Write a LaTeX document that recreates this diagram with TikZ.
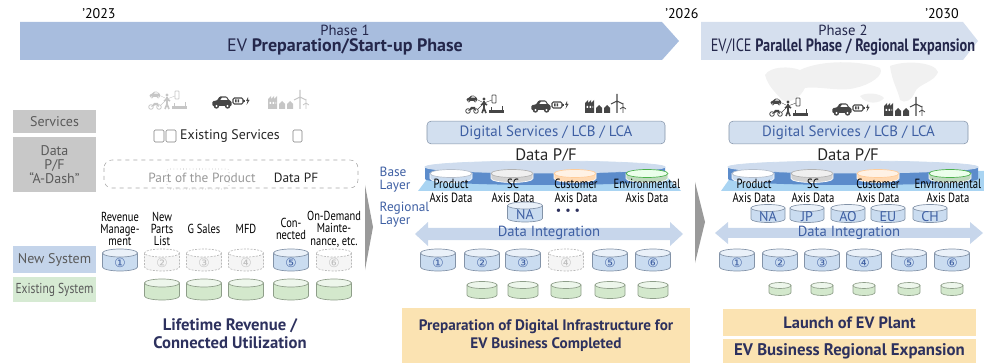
\documentclass[tikz,border=0pt]{standalone}
\usepackage{fontspec}
\setmainfont{PT Sans}
\newfontfamily\condfont{PT Sans}[FakeStretch=0.8]
\newfontfamily\symfont{DejaVu Sans}
\usetikzlibrary{shapes.geometric,positioning}

\definecolor{navy}{HTML}{2D315E}
\definecolor{txtblue}{HTML}{3E5FA3}
\definecolor{boxgrey}{HTML}{C8C8C8}
\definecolor{txtgrey}{HTML}{5A5A5A}
\definecolor{newblue}{HTML}{C4D4EA}
\definecolor{oldgreen}{HTML}{D6EAD3}
\definecolor{canblue}{HTML}{CADCF0}
\definecolor{canedge}{HTML}{8393A8}
\definecolor{cangreen}{HTML}{D3E8CC}
\definecolor{greenedge}{HTML}{8E9E89}
\definecolor{beige}{HTML}{FBE3B2}
\definecolor{bannerA}{HTML}{A8BDDE}
\definecolor{bannerB}{HTML}{D5DFEE}
\definecolor{svcblue}{HTML}{D2DFEF}
\definecolor{intblue}{HTML}{C7D6EB}
\definecolor{slab}{HTML}{A9D4F2}
\definecolor{disk}{HTML}{5C8CCB}
\definecolor{disktop}{HTML}{CFDCEE}
\definecolor{chev}{HTML}{9A9A9A}

\tikzset{
  sidebox/.style={fill=boxgrey, minimum width=62.25pt, inner sep=0pt, text=txtgrey,
    font=\fontsize{10.5}{10.5}\selectfont, align=center},
  collabel/.style={font=\condfont\fontsize{9.8}{9.3}\selectfont, align=center},
  axislabel/.style={font=\condfont\fontsize{10}{10.2}\selectfont, align=center},
  layerlabel/.style={font=\fontsize{10}{9.9}\selectfont, text=txtblue, align=left, anchor=west},
  svcbox/.style={draw=canedge, fill=svcblue, rounded corners=3pt, minimum height=14.25pt,
    minimum width=178.5pt, text=txtblue, font=\fontsize{11.2}{11}\selectfont},
  pftitle/.style={font=\fontsize{12.5}{12}\selectfont, text=black!85},
  goalbox/.style={fill=beige, inner sep=0pt, text=navy, font=\bfseries\fontsize{11.4}{13.5}\selectfont, align=center},
  inttext/.style={text=txtblue, font=\fontsize{11}{11}\selectfont},
  % database cans
  canw/.store in=\canw, canw=35,
  canh/.store in=\canh, canh=22,
  canry/.store in=\canry, canry=4,
  canbody/.style={fill=canblue, draw=canedge},
  cantop/.style={fill=canblue!40!white, draw=canedge},
  cantext/.style={text=txtblue, font=\symfont\fontsize{9.5}{9}\selectfont},
  plancan/.style={canbody/.style={fill=gray!8, draw=gray!55, dash pattern=on 1.5pt off 1pt},
    cantop/.style={fill=white, draw=gray!55, dash pattern=on 1.5pt off 1pt},
    cantext/.append style={text=gray!50}},
  oldcan/.style={canbody/.style={fill=cangreen, draw=greenedge},
    cantop/.style={fill=cangreen!40!white, draw=greenedge}},
  regcan/.style={canw=35, canh=19, canry=3.5, cantext/.append style={font=\rmfamily\fontsize{10.5}{9}\selectfont}},
  pics/dbcan/.style={code={
    \pgfmathsetmacro\rx{\canw/2}
    \pgfmathsetmacro\hy{\canh/2}
    \path[canbody, line width=0.5pt] (-\rx,-\hy+\canry) -- (-\rx,\hy-\canry)
      arc[start angle=180, end angle=0, x radius=\rx, y radius=\canry] -- (\rx,-\hy+\canry) -- cycle;
    \path[cantop, line width=0.5pt] (0,-\hy+\canry) ellipse[x radius=\rx, y radius=\canry];
    \node[cantext, inner sep=0pt] (-db) at (0,0.8*\canry) {#1};
  }},
  pics/minicar/.style={code={
    \fill[rounded corners=0.8] (-6,0) -- (-6,-3) -- (-3,-3.5) -- (-1.5,-6) -- (3,-6) -- (4.5,-3.5) -- (6,-3) -- (6,0) -- cycle;
    \fill[white] (-1,-3.8) -- (0,-5.2) -- (2.6,-5.2) -- (3.5,-3.8) -- cycle;
    \fill (-3.5,0) circle (1.7) (3.5,0) circle (1.7);
    \fill[white] (-3.5,0) circle (0.7) (3.5,0) circle (0.7);
  }},
  pics/mobility/.style={code={
    \pic[scale=0.9] at (-15,-4) {minicar};
    \draw[line width=0.6] (-19,6) circle (2.3) (-11,6) circle (2.3);
    \fill (-19,6) -- (-16,2) -- (-12,2) -- (-11,6) -- (-14,4) -- cycle;
    \fill (-3,-6) circle (1.6);
    \draw[line width=1.2] (-3,-4) -- (-3,3) (-3,3) -- (-5,8) (-3,3) -- (-1,8) (-6,0) -- (-3,-2) -- (0,0);
    \draw[line width=0.3] (-3,-2) -- (-9,-5) (-3,-2) -- (-9,4) (-3,-2) -- (5,-5);
    \draw[line width=0.6, rounded corners=0.5] (5,-10) rectangle (9,-2);
    \fill (2,5) rectangle (17,8);
    \draw[line width=0.5] (4,5) -- (4,2) (15,5) -- (15,1);
  }},
  pics/evcar/.style={code={
    \pic[scale=1.6] at (-9,5) {minicar};
    \draw[line width=0.8, rounded corners=1] (2,-3) rectangle (12,3);
    \fill (12,-1) rectangle (13.5,1);
    \fill (4,-1.5) rectangle (5.5,1.5) (6.5,-1.5) rectangle (8,1.5);
    \fill (17,-4) -- (15,0) -- (16.5,0) -- (15.5,4) -- (18.5,-1) -- (17,-1) -- cycle;
  }},
  pics/plant/.style={code={
    \fill (-22,8) -- (-22,-2) -- (-19,-5) -- (-19,-2) -- (-16,-5) -- (-16,-2) -- (-13,-5) -- (-13,8) -- cycle;
    \fill[white] (-20.5,1) rectangle (-19,3) (-17.5,1) rectangle (-16,3) (-14.5,1) rectangle (-14,3);
    \fill (-11,8) rectangle (-5,3) (-3,8) rectangle (3,3);
    \fill (-11,3) -- (-8,0) -- (-5,3) -- cycle (-3,3) -- (0,0) -- (3,3) -- cycle;
    \draw[line width=0.8] (10,8) -- (10,-4) (10,-4) -- (10,-11) (10,-4) -- (16,-1) (10,-4) -- (4,-1);
    \draw[line width=0.6] (16,8) -- (16,2) (16,2) -- (16,-2) (16,2) -- (19,4) (16,2) -- (13,4);
  }}
}

\begin{document}
\begin{tikzpicture}[x=0.75pt, y=-0.75pt]
\useasboundingbox (0,0) rectangle (984,363);

% phase banners
\fill[bannerA] (20,22) -- (662,22) -- (679,41) -- (662,60) -- (20,60) -- cycle;
\fill[bannerB] (701,22) -- (963,22) -- (978,41) -- (963,60) -- (701,60) -- cycle;
\node[text=navy!80!black, align=center] (phase1) at (345,40)
  {{\fontsize{11}{12}\selectfont Phase 1}\\{\fontsize{13.5}{13}\selectfont EV \textbf{Preparation/Start-up Phase}}};
\node[text=navy!80!black, align=center] (phase2) at (843,40)
  {{\fontsize{11}{12}\selectfont Phase 2}\\{\condfont\fontsize{13.4}{13}\selectfont EV/ICE \textbf{Parallel Phase / Regional Expansion}}};
\node[font=\fontsize{10.5}{10}\selectfont] (y2023) at (99,14) {’2023};
\node[font=\fontsize{10.5}{10}\selectfont] (y2026) at (682,14) {’2026};
\node[font=\fontsize{10.5}{10}\selectfont] (y2030) at (942,14) {’2030};

% section chevrons
\fill[chev] (365,185) -- (373,227) -- (365,270) -- cycle;
\fill[chev] (695,182) -- (705,222) -- (695,263) -- cycle;

% ---- left: current state
\node[sidebox, minimum height=17.25pt] (svc) at (54.5,121.5) {Services};
\node[sidebox, minimum height=41.25pt] (dpf) at (54.5,164.5) {Data\\P/F\\“A-Dash”};
\node[sidebox, fill=newblue, minimum height=20.25pt] (newsys) at (54.5,259.5) {New System};
\node[sidebox, fill=oldgreen, minimum height=18.75pt, font=\condfont\fontsize{10.8}{10}\selectfont] (oldsys) at (54.5,289.5) {Existing System};

\pic[gray!45] at (170,101) {mobility};
\pic[gray!55!black] at (231,101) {evcar};
\pic[gray!45] at (290,101) {plant};

\node[font=\fontsize{10.4}{10}\selectfont, text=black!85] (exsvc) at (230,136) {Existing Services};
\draw[gray, rounded corners=1pt] (154,130) rectangle (164,142) (166,130) rectangle (176,142) (293,130) rectangle (302,142);

\draw[gray!70, dashed, rounded corners=6pt] (104,160) rectangle (358,188);
\draw[gray!70, dotted, rounded corners=2pt] (167,169) rectangle (229,189);
\node[font=\fontsize{10}{10}\selectfont, text=gray!80] (partprod) at (202,178) {Part of the Product};
\node[font=\fontsize{10}{10}\selectfont, text=black!85] (datapf) at (296,178) {Data PF};

\node[collabel] (revlbl) at (120,229) {Revenue\\Manage-\\ment};
\node[collabel] (npllbl) at (162,229) {New\\Parts\\List};
\node[collabel] (gslbl) at (204,229) {G Sales};
\node[collabel] (mfdlbl) at (246,229) {MFD};
\node[collabel] (conlbl) at (291,229) {Con-\\nected};
\node[collabel] (odmlbl) at (334,229) {On-Demand\\Mainte-\\nance, etc.};

\pic (l1) at (120,260) {dbcan=①};
\pic[plancan] (l2) at (162,260) {dbcan=②};
\pic[plancan] (l3) at (204,260) {dbcan=③};
\pic[plancan] (l4) at (246,260) {dbcan=④};
\pic (l5) at (291,260) {dbcan=⑤};
\pic[plancan] (l6) at (334,260) {dbcan=⑥};
\foreach \x [count=\i] in {162,204,246,291,334}
  \pic[oldcan, canh=21] (lo\i) at (\x,289.5) {dbcan={}};

\node[text=navy, font=\bfseries\fontsize{12.5}{13.5}\selectfont, align=center] (lifetime) at (230,334)
  {Lifetime Revenue /\\Connected Utilization};

% ---- middle: phase 1 target
\pic[gray!55!black] at (487,105) {mobility};
\pic[gray!55!black] at (550,105) {evcar};
\pic[gray!55!black] at (607,105) {plant};
\node[svcbox] (svc1) at (546,132.5) {Digital Services / LCB / LCA};
\node[pftitle] (pf1) at (546,156) {Data P/F};

\fill[slab] (418,191) -- (433,171) -- (661,171) -- (681,191) -- cycle;
\fill[disk] (425,167) -- (425,179) arc[start angle=180, end angle=0, x radius=120, y radius=6] -- (665,167) -- cycle;
\filldraw[fill=disktop, draw=white!70!disk, line width=0.6pt] (545,167) ellipse[x radius=120, y radius=6];
\pic[canw=42, canh=13, canry=4, canbody/.style={fill=canblue, draw=white}, cantop/.style={fill=white, draw=canedge!60}] (ax1p) at (451,176) {dbcan={}};
\pic[canw=42, canh=13, canry=4, canbody/.style={fill=gray!35, draw=white}, cantop/.style={fill=gray!12, draw=gray!60}] (ax1s) at (512,176) {dbcan={}};
\pic[canw=42, canh=13, canry=4, canbody/.style={fill=orange!30, draw=white}, cantop/.style={fill=orange!10, draw=orange!40}] (ax1c) at (575,176) {dbcan={}};
\pic[canw=42, canh=13, canry=4, canbody/.style={fill=green!25!gray!40, draw=white}, cantop/.style={fill=green!8, draw=green!40!gray}] (ax1e) at (647,176) {dbcan={}};
\node[axislabel] (lb1p) at (451,191) {Product\\Axis Data};
\node[axislabel] (lb1s) at (513,191) {SC\\Axis Data};
\node[axislabel] (lb1c) at (576,191) {Customer\\Axis Data};
\node[axislabel] (lb1e) at (647,191) {Environmental\\Axis Data};

\node[layerlabel] (base) at (375,180) {Base\\Layer};
\node[layerlabel] (regional) at (375,215) {Regional\\Layer};
\pic[regcan, canh=20] (na1) at (525,212) {dbcan=NA};
\node[text=navy, font=\fontsize{9}{10}\selectfont] (more1) at (568,212) {•\,\,•\,\,•};

\fill[intblue] (415,234) -- (428,222) -- (428,228) -- (670,228) -- (670,222) -- (683,234)
  -- (670,246) -- (670,240) -- (428,240) -- (428,246) -- cycle;
\node[inttext] (int1) at (549,233) {Data Integration};

\pic (m1) at (438,260) {dbcan=①};
\pic (m2) at (482,260) {dbcan=②};
\pic (m3) at (523,260) {dbcan=③};
\pic[plancan] (m4) at (566,260) {dbcan=④};
\pic (m5) at (610,260) {dbcan=⑤};
\pic (m6) at (653,260) {dbcan=⑥};
\foreach \x [count=\i] in {482,523,566,610,653}
  \pic[oldcan, canw=30, canh=17, canry=3.5] (mo\i) at (\x,290) {dbcan={}};

\node[goalbox, minimum width=216pt, minimum height=41.25pt] (goal1) at (546,335.5)
  {Preparation of Digital Infrastructure for\\EV Business Completed};

% ---- right: phase 2 target
\fill[gray!11] (765,75) .. controls (770,66) and (790,66) .. (800,70) .. controls (820,60) and (860,60) .. (880,68)
  .. controls (885,75) and (870,85) .. (855,88) .. controls (840,92) and (820,86) .. (805,88)
  .. controls (800,98) and (790,104) .. (782,100) .. controls (775,92) and (768,86) .. (765,75) -- cycle;
\fill[gray!11] (890,66) .. controls (905,60) and (935,62) .. (938,72) .. controls (935,82) and (918,84) .. (915,92)
  .. controls (912,100) and (905,104) .. (900,100) .. controls (898,90) and (892,82) .. (890,66) -- cycle;
\fill[gray!11] (860,96) .. controls (866,92) and (880,93) .. (884,98) .. controls (880,104) and (866,105) .. (860,96) -- cycle;
\pic[gray!55!black] at (791,108) {mobility};
\pic[gray!55!black] at (851,108) {evcar};
\pic[gray!55!black] at (906,108) {plant};
\node[svcbox, minimum width=179.25pt] (svc2) at (848.5,132.5) {Digital Services / LCB / LCA};
\node[pftitle] (pf2) at (848,156) {Data P/F};

\fill[slab] (721,191) -- (735,171) -- (984,171) -- (984,191) -- cycle;
\fill[disk] (728,167) -- (728,179) arc[start angle=180, end angle=0, x radius=125, y radius=6] -- (978,167) -- cycle;
\filldraw[fill=disktop, draw=white!70!disk, line width=0.6pt] (853,167) ellipse[x radius=125, y radius=6];
\pic[canw=42, canh=13, canry=4, canbody/.style={fill=canblue, draw=white}, cantop/.style={fill=white, draw=canedge!60}] (ax2p) at (753,176) {dbcan={}};
\pic[canw=42, canh=13, canry=4, canbody/.style={fill=gray!35, draw=white}, cantop/.style={fill=gray!12, draw=gray!60}] (ax2s) at (812,176) {dbcan={}};
\pic[canw=42, canh=13, canry=4, canbody/.style={fill=orange!30, draw=white}, cantop/.style={fill=orange!10, draw=orange!40}] (ax2c) at (878,176) {dbcan={}};
\pic[canw=42, canh=13, canry=4, canbody/.style={fill=green!25!gray!40, draw=white}, cantop/.style={fill=green!8, draw=green!40!gray}] (ax2e) at (950,176) {dbcan={}};
\node[axislabel] (lb2p) at (754,191) {Product\\Axis Data};
\node[axislabel] (lb2s) at (813,191) {SC\\Axis Data};
\node[axislabel] (lb2c) at (878,191) {Customer\\Axis Data};
\node[axislabel] (lb2e) at (948,191) {Environmental\\Axis Data};

\foreach \x/\reg in {768/NA,807/JP,848/AO,888/EU,930/CH}
  \pic[regcan, canw=34, canh=18] (reg\reg) at (\x,213.5) {dbcan=\reg};

\fill[intblue] (715,233) -- (728,222) -- (728,228) -- (970,228) -- (970,222) -- (983,233)
  -- (970,244) -- (970,238) -- (728,238) -- (728,244) -- cycle;
\node[inttext] (int2) at (849,233) {Data Integration};

\foreach \x/\d [count=\i] in {737/①,780/②,822/③,864/④,909/⑤,952/⑥}
  \pic (r\i) at (\x,260) {dbcan=\d};
\foreach \x [count=\i] in {780,822,864,909,952}
  \pic[oldcan, canw=22, canh=13, canry=3] (ro\i) at (\x,289) {dbcan={}};

\node[goalbox, minimum width=189.75pt, minimum height=20.25pt, font=\bfseries\fontsize{12.3}{12}\selectfont] (goal2) at (849.5,322.5) {Launch of EV Plant};
\node[goalbox, minimum width=189.75pt, minimum height=18pt, font=\bfseries\fontsize{12.6}{12}\selectfont] (goal3) at (849.5,351) {EV Business Regional Expansion};
\end{tikzpicture}
\end{document}
